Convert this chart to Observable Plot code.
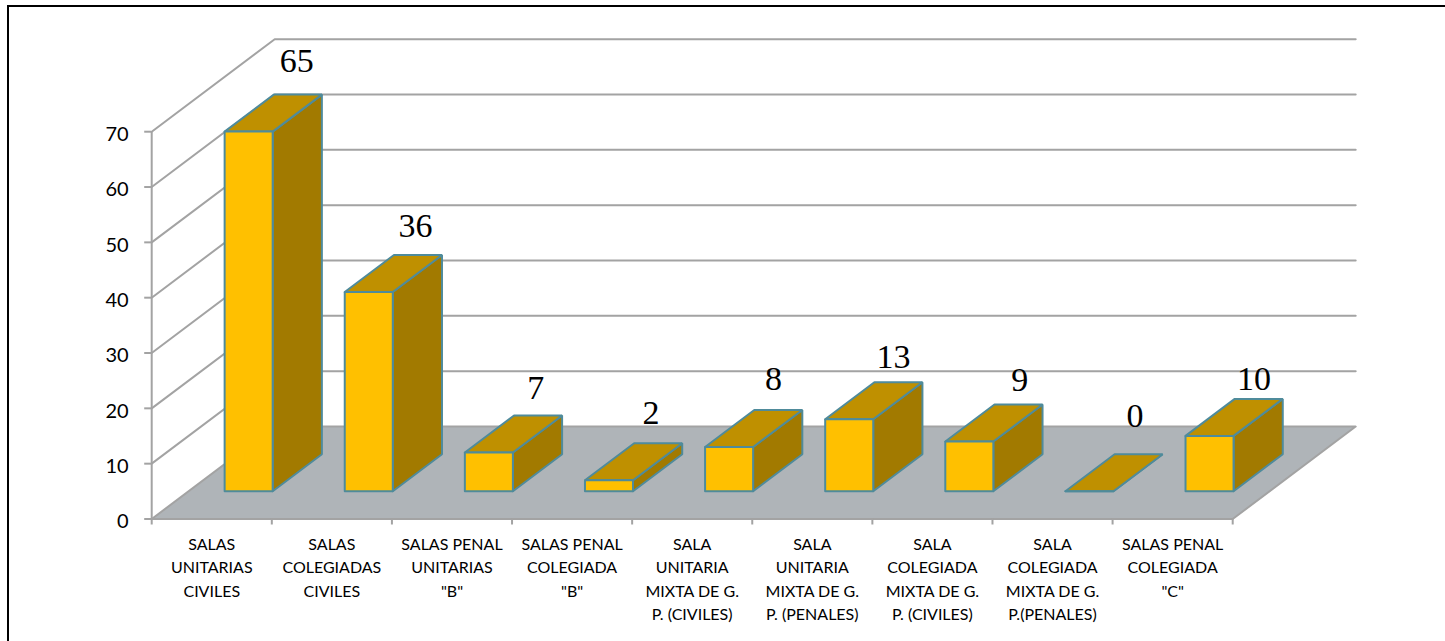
<!DOCTYPE html>
<html>
<head>
<meta charset="utf-8">
<script src="https://cdn.jsdelivr.net/npm/d3@7"></script>
<script src="https://cdn.jsdelivr.net/npm/@observablehq/plot@0.6"></script>
<style>
html,body{margin:0;padding:0;background:#fff;overflow:hidden}
#chart{position:relative;width:1445px;height:641px}
#chart svg{display:block}
#edge{position:absolute;left:7px;top:5px;right:0;bottom:0;border-left:2px solid #000;border-top:2px solid #000;pointer-events:none}
</style>
</head>
<body>
<div id="chart"><div id="edge"></div></div>
<script>
const categories = [
  "SALAS\nUNITARIAS\nCIVILES",
  "SALAS\nCOLEGIADAS\nCIVILES",
  "SALAS PENAL\nUNITARIAS\n\"B\"",
  "SALAS PENAL\nCOLEGIADA\n\"B\"",
  "SALA\nUNITARIA\nMIXTA DE G.\nP. (CIVILES)",
  "SALA\nUNITARIA\nMIXTA DE G.\nP. (PENALES)",
  "SALA\nCOLEGIADA\nMIXTA DE G.\nP. (CIVILES)",
  "SALA\nCOLEGIADA\nMIXTA DE G.\nP.(PENALES)",
  "SALAS PENAL\nCOLEGIADA\n\"C\""
];
const values = [65, 36, 7, 2, 8, 13, 9, 0, 10];
const yTicks = [0, 10, 20, 30, 40, 50, 60, 70];
// how far each hand-placed value label floats off its bar: up in axis units, across in category units
const labelRaise = [4.15, 3.3, 2.9, 3.45, 3.6, 2.65, 2.35, 4.95, 1.55];
const labelShift = [-0.01, -0.02, -0.02, -0.06, -0.04, -0.04, 0.01, -0.03, -0.04];

// oblique projection: depth 0 = front of floor, depth 1 = back wall
const depthX = 1.024, depthY = 16.72;
const barFront = 0.3, barDepth = 0.4;
const P = (c, v, d) => ({x: c + d * depthX, y: v + d * depthY});
const poly = (id, pts) => pts.map(([c, v, d]) => ({id, ...P(c, v, d)}));

const lo = i => i + 0.3, hi = i => i + 0.7;
const d0 = barFront, d1 = barFront + barDepth;
const front = values.flatMap((v, i) => poly(i, [[lo(i),0,d0],[hi(i),0,d0],[hi(i),v,d0],[lo(i),v,d0],[lo(i),0,d0]]));
const top_ = values.flatMap((v, i) => poly(i, [[lo(i),v,d0],[hi(i),v,d0],[hi(i),v,d1],[lo(i),v,d1],[lo(i),v,d0]]));
const side = values.flatMap((v, i) => poly(i, [[hi(i),0,d0],[hi(i),0,d1],[hi(i),v,d1],[hi(i),v,d0],[hi(i),0,d0]]));
const floor = poly("floor", [[0,0,0],[9,0,0],[9,0,1],[0,0,1],[0,0,0]]);
const walls = yTicks.filter(t => t > 0).flatMap(t => poly(t, [[0,t,0],[0,t,1],[9,t,1]]));
const labels = values.map((v, i) => ({
  text: String(v),
  ...P(i + 0.5 + labelShift[i], v + labelRaise[i], d1)
}));
const catLabels = categories.map((text, i) => ({text, x: i + 0.5}));

const grey = "#a3a3a3", edge = "#4f8b9b";
const face = (data, fill) => Plot.line(data, {x:"x", y:"y", z:"id", fill, stroke:edge, strokeWidth:2, strokeLinejoin:"miter"});

const chart = Plot.plot({
  width: 1445, height: 641,
  marginLeft: 151.2, marginRight: 212.8, marginTop: 131.2, marginBottom: 122.5,
  x: {domain:[0,9], axis:null},
  y: {domain:[0,70], axis:null},
  style: {fontFamily:"Lato", color:"#000", background:"transparent"},
  marks: [
    Plot.line(floor, {x:"x", y:"y", z:"id", fill:"#afb4b8", stroke:grey, strokeWidth:2}),
    Plot.line(walls, {x:"x", y:"y", z:"id", stroke:grey, strokeWidth:2}),
    Plot.ruleX([0], {stroke:grey, strokeWidth:2}),
    Plot.axisY({ticks:yTicks, tickSize:7, tickFormat:()=>"", stroke:grey, strokeWidth:2, strokeOpacity:1, label:null, anchor:"left"}),
    Plot.axisY({ticks:yTicks, tickSize:0, tickPadding:23, dy:3, fontSize:20, color:"#000", label:null, anchor:"left"}),
    Plot.axisX({ticks:d3.range(0,10), tickSize:6, tickFormat:()=>"", stroke:grey, strokeWidth:2, strokeOpacity:1, label:null, anchor:"bottom"}),
    Plot.text(catLabels, {x:"x", y:()=>0, text:"text", lineAnchor:"top", dy:14, fontSize:16, lineHeight:1.47, fill:"#000"}),
    face(side, "#a27a00"),
    face(top_, "#bf9000"),
    face(front, "#ffc000"),
    Plot.text(labels, {x:"x", y:"y", text:"text", fontFamily:"Liberation Serif", fontSize:34, lineAnchor:"bottom", fill:"#000"})
  ]
});
document.getElementById("chart").prepend(chart);
</script>
</body>
</html>
